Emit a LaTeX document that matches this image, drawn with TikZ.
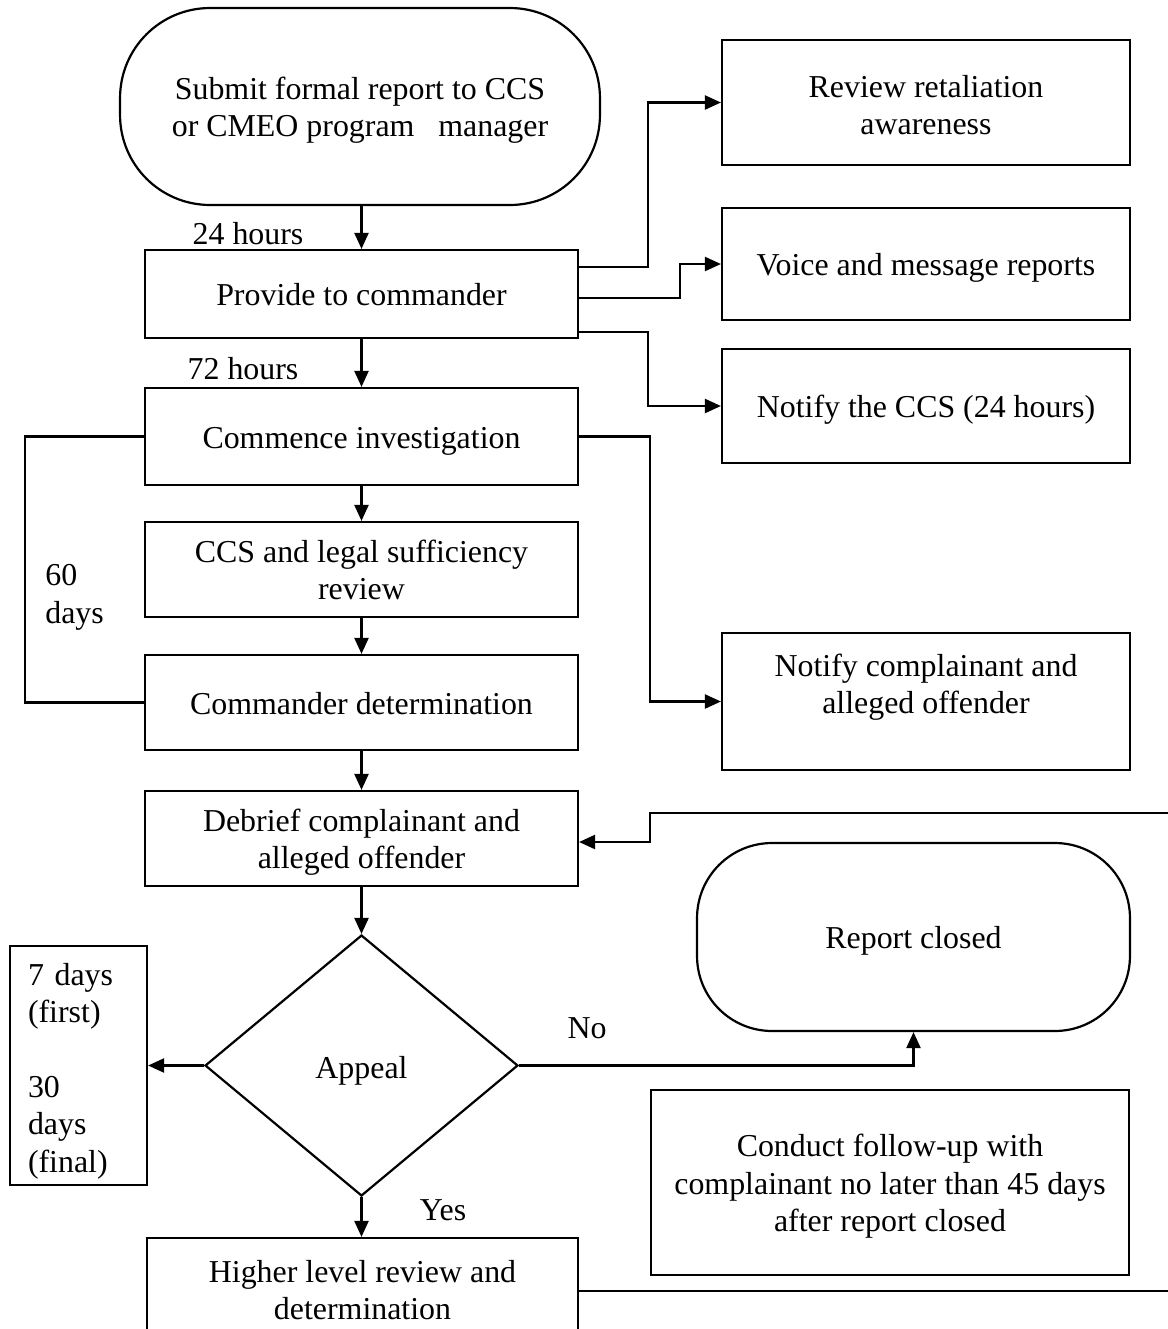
\documentclass[tikz,border=0pt]{standalone}
\usepackage{fontspec}
\setmainfont{Liberation Serif}
\usetikzlibrary{arrows.meta,shapes.geometric}
\newcommand\tb[2][2.4pt]{\raisebox{-#1}[\height][\depth]{\begin{tabular}{@{}c@{}}#2\end{tabular}}}
\newcommand\tl[2][3.3pt]{\raisebox{-#1}[\height][\depth]{\begin{tabular}{@{}l@{}}#2\end{tabular}}}
\begin{document}
\begin{tikzpicture}[x=0.02cm,y=-0.02cm,
  every node/.style={font=\fontsize{18.15}{21.3}\selectfont},
  box/.style={draw, line width=1.25pt, rectangle, align=center, inner sep=0pt},
  term/.style={draw, line width=1.25pt, rectangle, align=center, inner sep=0pt},
  arr/.style={line width=1.25pt, -{Triangle[length=0.32cm,width=0.28cm]}},
  conn/.style={line width=1.25pt}]
\useasboundingbox (0,0) rectangle (1168,1329);

% main column
\node[term, rounded corners=1.8cm, minimum width=9.6cm, minimum height=3.94cm] (start) at (360,106.5) {\tb{Submit formal report to CCS\\or CMEO program~~~manager}};
\node[box, minimum width=8.66cm, minimum height=1.76cm] (provide) at (361.5,294) {\tb{Provide to commander}};
\node[box, minimum width=8.66cm, minimum height=1.94cm] (commence) at (361.5,436.5) {\tb{Commence investigation}};
\node[box, minimum width=8.66cm, minimum height=1.9cm] (ccs) at (361.5,569.5) {\tb{CCS and legal sufficiency\\review}};
\node[box, minimum width=8.66cm, minimum height=1.9cm] (cmdr) at (361.5,702.5) {\tb{Commander determination}};
\node[box, minimum width=8.66cm, minimum height=1.9cm] (debrief) at (361.5,838.5) {\tb{Debrief complainant and\\alleged offender}};
\node[diamond, draw, line width=1.25pt, minimum width=6.26cm, minimum height=5.22cm, inner sep=0pt] (appeal) at (361.5,1065.5) {\tb[3.3pt]{Appeal}};
\node[box, minimum width=2.74cm, minimum height=4.78cm, text width=2.02cm, align=left, inner xsep=0.36cm] (days) at (78.5,1065.5) {\tl{7 days\\(first)\\[21.3pt]30\\days\\(final)}};
\node[box, minimum width=8.62cm, minimum height=2.04cm] (higher) at (362.5,1289) {\tb{Higher level review and\\determination}};

% right column
\node[box, minimum width=8.16cm, minimum height=2.5cm] (review) at (926,102.5) {\tb[3.3pt]{Review retaliation\\awareness}};
\node[box, minimum width=8.16cm, minimum height=2.24cm] (voice) at (926,264) {\tb{Voice and message reports}};
\node[box, minimum width=8.16cm, minimum height=2.28cm] (notifyccs) at (926,406) {\tb{Notify the CCS (24 hours)}};
\node[box, minimum width=8.16cm, minimum height=2.74cm] (notifycomp) at (926,701.5) {};
\node (notifycomptext) at (926,683) {\tb{Notify complainant and\\alleged offender}};
\node[term, rounded corners=1.5cm, minimum width=8.66cm, minimum height=3.76cm] (closed) at (913.5,937) {\tb{Report closed}};
\node[box, minimum width=9.56cm, minimum height=3.7cm] (followup) at (890,1182.5) {\tb{Conduct follow-up with\\complainant no later than 45 days\\after report closed}};

% labels
\node (h24) at (248,234) {24 hours};
\node (h72) at (243,369) {72 hours};
\node[anchor=west, inner sep=0pt] (d60) at (45,597) {\tl[0pt]{60\\days}};
\node (no) at (587,1028) {No};
\node (yes) at (443,1210) {Yes};

% connectors main column
\draw[arr] (start.south -| provide.north) -- (provide.north);
\draw[arr] (provide.south) -- (commence.north);
\draw[arr] (commence.south) -- (ccs.north);
\draw[arr] (ccs.south) -- (cmdr.north);
\draw[arr] (cmdr.south) -- (debrief.north);
\draw[arr] (debrief.south) -- (appeal.north);
\draw[arr] (appeal.west) -- (days.east);
\draw[arr] (appeal.south) -- (appeal.south |- higher.north);
\draw[arr] (appeal.east) -| (closed.south);

% provide branches
\draw[arr] (provide.east |- 0,267) -- (648,267) |- (review.west);
\draw[arr] (provide.east |- 0,298) -- (680,298) |- (voice.west);
\draw[arr] (provide.east |- 0,332) -- (648,332) |- (notifyccs.west);

% commence branch
\draw[arr] (commence.east) -- (650,436.5) |- (notifycomp.west);

% 60 days bracket
\draw[conn] (commence.west) -- (25,436.5) |- (cmdr.west);

% feedback lines
\coordinate (fbend) at (1168,813);
\draw[arr] (fbend) -- (650,813) -- (650,842) -- (debrief.east |- 650,842);
\coordinate (hend) at (1168,1291);
\draw[conn] (higher.east |- hend) -- (hend);
\end{tikzpicture}
\end{document}
